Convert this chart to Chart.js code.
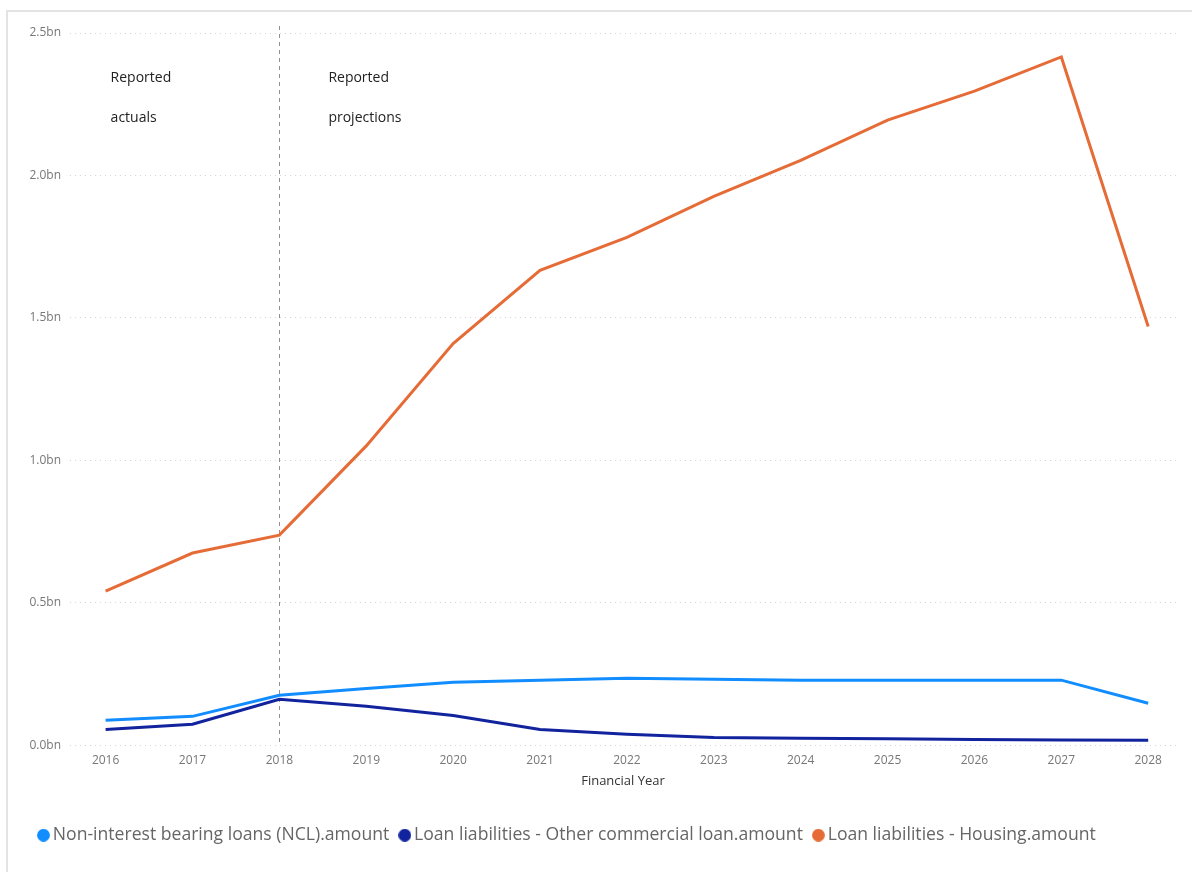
<!DOCTYPE html>
<html>
<head>
<meta charset="utf-8">
<title>Loan liabilities by financial year</title>
<script src="https://cdn.jsdelivr.net/npm/chart.js@4/dist/chart.umd.min.js"></script>
<style>
  html, body { margin: 0; padding: 0; background: #fff; }
  #wrap { position: relative; width: 1192px; height: 872px; overflow: hidden; }
  #frame { position: absolute; left: 6px; top: 10px; right: -10px; bottom: -10px;
           border-left: 2px solid #e3e3e3; border-top: 2px solid #e3e3e3; }
  canvas { position: absolute; left: 0; top: 0; }
</style>
</head>
<body>
<div id="wrap">
  <div id="frame"></div>
  <canvas id="chart" width="1192" height="872"></canvas>
</div>
<script>
// Financial years on the x axis
const years = [2016, 2017, 2018, 2019, 2020, 2021, 2022, 2023, 2024, 2025, 2026, 2027, 2028];

// Amounts in billions
const nclAmount       = [0.088, 0.102, 0.176, 0.200, 0.222, 0.229, 0.236, 0.232, 0.229, 0.229, 0.229, 0.229, 0.148];
const otherCommercial = [0.056, 0.074, 0.162, 0.137, 0.105, 0.056, 0.039, 0.028, 0.025, 0.023, 0.021, 0.019, 0.018];
const housingAmount   = [0.541, 0.675, 0.738, 1.051, 1.410, 1.667, 1.783, 1.927, 2.053, 2.194, 2.296, 2.416, 1.470];

// Value axis ticks (billions)
const yTicks = [0, 0.5, 1.0, 1.5, 2.0, 2.5];

const seriesNames = [
  'Non-interest bearing loans (NCL).amount',
  'Loan liabilities - Other commercial loan.amount',
  'Loan liabilities - Housing.amount'
];
const seriesColors = ['#118DFF', '#12239E', '#E66C37'];

// Period split and its captions
const dividerYear = 2018;
const periodNotes = [
  { year: 2016, lines: ['Reported', 'actuals'] },
  { year: 2018, lines: ['Reported', 'projections'] }
];

const FONT = "'Open Sans', 'Noto Sans', sans-serif";

// Round legend markers
function makeDot(color) {
  const c = document.createElement('canvas');
  c.width = 13; c.height = 13;
  const g = c.getContext('2d');
  g.fillStyle = color;
  g.beginPath();
  g.arc(6.5, 6.5, 6.4, 0, Math.PI * 2);
  g.fill();
  return c;
}
const dots = seriesColors.map(makeDot);

const toPoints = vals => years.map((yr, i) => ({ x: yr, y: vals[i] }));

const datasets = [nclAmount, otherCommercial, housingAmount].map((vals, i) => ({
  label: seriesNames[i],
  data: toPoints(vals),
  borderColor: seriesColors[i],
  backgroundColor: seriesColors[i],
  borderWidth: 3,
  pointRadius: 0,
  pointHoverRadius: 0,
  tension: 0,
  fill: false
}));

// Dashed divider and the two period captions
const periodPlugin = {
  id: 'periodNotes',
  beforeDatasetsDraw(chart) {
    const { ctx, chartArea, scales } = chart;
    const x = Math.round(scales.x.getPixelForValue(dividerYear)) + 0.5;
    ctx.save();
    ctx.strokeStyle = '#8f8f8f';
    ctx.lineWidth = 1;
    ctx.setLineDash([4, 4]);
    ctx.beginPath();
    ctx.moveTo(x, chartArea.top - 7);
    ctx.lineTo(x, chartArea.bottom);
    ctx.stroke();
    ctx.restore();
  },
  afterDatasetsDraw(chart) {
    const { ctx, chartArea, scales } = chart;
    ctx.save();
    ctx.fillStyle = '#222';
    ctx.font = "14px " + FONT;
    ctx.textAlign = 'left';
    ctx.textBaseline = 'middle';
    const offsets = [5, 49];
    periodNotes.forEach((n, k) => {
      const x = scales.x.getPixelForValue(n.year) + offsets[k];
      n.lines.forEach((line, j) => {
        ctx.fillText(line, x, chartArea.top + 45 + j * 40);
      });
    });
    ctx.restore();
  }
};

new Chart(document.getElementById('chart'), {
  type: 'line',
  data: { datasets },
  plugins: [periodPlugin],
  options: {
    responsive: false,
    animation: false,
    layout: { padding: { left: 28, right: 16, top: 33, bottom: 18 } },
    plugins: {
      tooltip: { enabled: false },
      legend: {
        position: 'bottom',
        align: 'start',
        labels: {
          usePointStyle: true,
          pointStyleWidth: 1,
          boxHeight: 13,
          padding: 15,
          color: '#666',
          font: { family: FONT, size: 17.6 },
          generateLabels: chart => chart.data.datasets.map((ds, i) => ({
            text: ds.label,
            fillStyle: ds.borderColor,
            strokeStyle: ds.borderColor,
            lineWidth: 0,
            pointStyle: dots[i],
            fontColor: '#666',
            hidden: false,
            datasetIndex: i
          }))
        }
      }
    },
    scales: {
      x: {
        type: 'linear',
        min: 2015.59,
        max: 2028.32,
        afterBuildTicks: s => { s.ticks = years.map(v => ({ value: v })); },
        afterFit: s => { s.height = 66; },
        grid: { display: false, drawTicks: false },
        border: { display: false },
        ticks: {
          padding: 8,
          color: '#777',
          font: { family: FONT, size: 12 },
          maxRotation: 0,
          autoSkip: false,
          callback: v => String(v)
        },
        title: {
          display: true,
          text: 'Financial Year',
          color: '#333',
          font: { family: FONT, size: 13 },
          padding: { top: 4, bottom: 22 }
        }
      },
      y: {
        min: 0,
        max: 2.5,
        afterBuildTicks: s => { s.ticks = yTicks.map(v => ({ value: v })); },
        afterFit: s => { s.width = 42; },
        grid: { color: '#d6d6d6', drawTicks: false, lineWidth: 1 },
        border: { display: false, dash: [1, 4] },
        ticks: {
          padding: 9,
          color: '#777',
          font: { family: FONT, size: 12 },
          callback: v => v.toFixed(1) + 'bn'
        }
      }
    }
  }
});
</script>
</body>
</html>
